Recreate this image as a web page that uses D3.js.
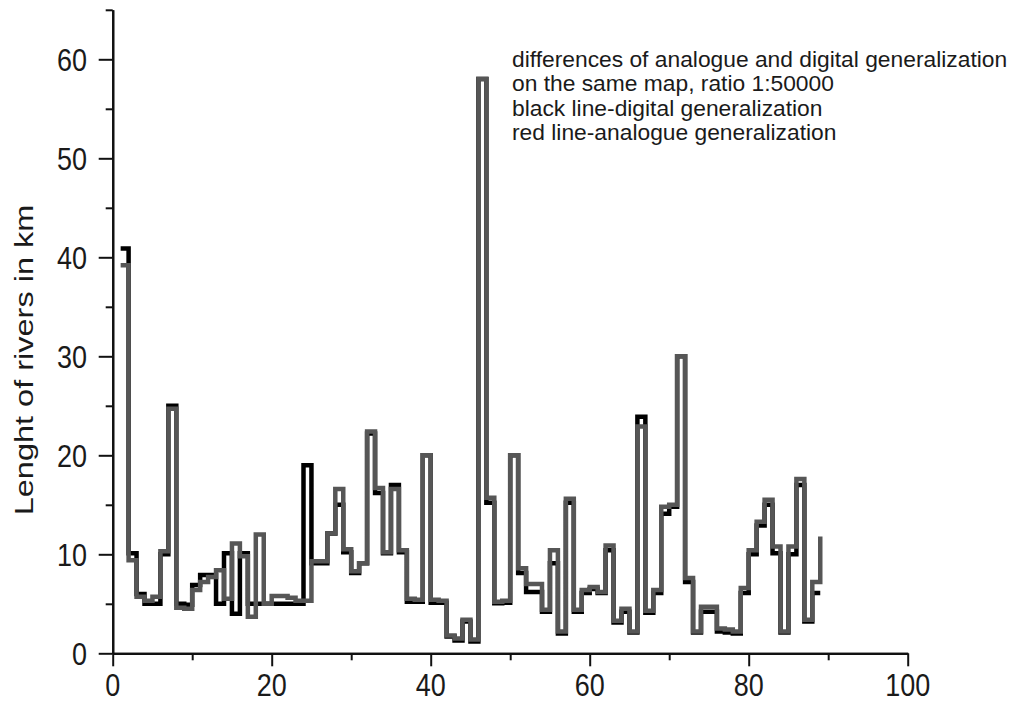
<!DOCTYPE html>
<html>
<head>
<meta charset="utf-8">
<script src="https://cdn.jsdelivr.net/npm/d3@7"></script>
<style>
  html, body { margin: 0; padding: 0; background: #fff; }
  svg { display: block; }
  text { font-family: "Liberation Sans", Arial, sans-serif; fill: #1a1a1a; }
</style>
</head>
<body>
<svg id="chart" width="1026" height="703"></svg>
<script>
// ---- data ----
const positions = d3.range(1, 90); // 1..89
const digital = [
  40.9, 10.1, 6.0, 5.0, 5.0, 10.0, 25.0, 5.0, 4.9,
  6.9, 7.9, 7.9, 5.0, 10.1, 4.0, 10.1, 5.0, 5.0, 5.0,
  5.0, 5.0, 5.0, 5.0, 19.0, 9.1, 9.1, 12.1, 15.0, 10.2,
  8.1, 9.1, 22.2, 16.2, 10.1, 17.0, 10.2, 5.2, 5.2, 20.0,
  5.1, 5.1, 1.7, 1.3, 3.2, 1.2, 58.0, 15.2, 5.05, 5.1,
  20.0, 8.1, 6.2, 6.2, 4.2, 9.1, 2.0, 15.2, 4.2, 6.1,
  6.5, 6.1, 10.4, 3.1, 4.2, 2.1, 23.9, 4.1, 6.1, 14.1,
  14.8, 30.0, 7.2, 2.1, 4.2, 4.2, 2.2, 2.1, 2.0, 6.1,
  10.0, 12.9, 15.0, 10.1, 2.1, 10.0, 17.0, 3.2, 6.1, 6.1
];
const analogue = [
  39.2, 9.4, 5.7, 5.3, 5.7, 10.3, 24.7, 4.6, 4.5,
  6.4, 7.2, 7.7, 8.4, 5.5, 11.1, 9.8, 3.7, 12.0, 5.0,
  5.8, 5.8, 5.6, 5.3, 5.3, 9.3, 9.3, 12.1, 16.6, 10.5,
  8.3, 9.1, 22.4, 16.7, 10.2, 16.6, 10.4, 5.5, 5.4, 20.0,
  5.4, 5.3, 1.8, 1.5, 3.4, 1.4, 58.0, 15.7, 5.2, 5.3,
  20.0, 8.6, 7.0, 7.0, 4.4, 10.4, 2.2, 15.6, 4.4, 6.4,
  6.7, 6.2, 10.9, 3.3, 4.5, 2.2, 22.9, 4.3, 6.4, 14.8,
  15.0, 30.0, 7.6, 2.2, 4.7, 4.7, 2.5, 2.4, 2.2, 6.6,
  10.4, 13.3, 15.5, 10.8, 2.2, 10.8, 17.6, 3.4, 7.2, 11.8
];
const xMajorTicks = [0, 20, 40, 60, 80, 100];
const xMinorTicks = [10, 30, 50, 70, 90];
const yMajorTicks = [0, 10, 20, 30, 40, 50, 60];
const yMinorTicks = [5, 15, 25, 35, 45, 55, 65];
const yLabel = "Lenght of rivers in km";
const noteLines = [
  "differences of analogue and digital generalization",
  "on the same map, ratio 1:50000",
  "black line-digital generalization",
  "red line-analogue generalization"
];

// ---- layout ----
const svg = d3.select("#chart");
const x = d3.scaleLinear().domain([0, 100]).range([112.7, 907.7]);
const y = d3.scaleLinear().domain([0, 65]).range([653.3, 9.8]);
const vStretch = 1.18;

// axes
const axisG = svg.append("g");
const xMajor = d3.axisBottom(x).tickValues(xMajorTicks).tickSize(13).tickFormat("").tickSizeOuter(0);
const xMinor = d3.axisBottom(x).tickValues(xMinorTicks).tickSize(7).tickFormat("").tickSizeOuter(0);
const yMajor = d3.axisLeft(y).tickValues(yMajorTicks).tickSize(14).tickFormat("").tickSizeOuter(0);
const yMinor = d3.axisLeft(y).tickValues(yMinorTicks).tickSize(7).tickFormat("").tickSizeOuter(0);
[[xMajor, "translate(0," + y(0) + ")"], [xMinor, "translate(0," + y(0) + ")"],
 [yMajor, "translate(" + x(0) + ",0)"], [yMinor, "translate(" + x(0) + ",0)"]].forEach(([ax, tr]) => {
  const g = axisG.append("g").attr("transform", tr).call(ax);
  g.selectAll("path.domain").attr("stroke", "#111").attr("stroke-width", 2.2);
  g.selectAll(".tick line").attr("stroke", "#111").attr("stroke-width", 2);
});

// tick labels
svg.append("g").selectAll("g").data(xMajorTicks).join("g")
  .attr("transform", d => `translate(${x(d)},696) scale(1,${vStretch})`)
  .append("text").attr("text-anchor", "middle").attr("font-size", 27).text(d => d);
svg.append("g").selectAll("g").data(yMajorTicks).join("g")
  .attr("transform", d => `translate(87,${y(d) + 11.5}) scale(1,${vStretch})`)
  .append("text").attr("text-anchor", "end").attr("font-size", 27).text(d => d);

// y label
svg.append("g")
  .attr("transform", `translate(33,360) scale(1,1.3) rotate(-90)`)
  .append("text").attr("text-anchor", "middle").attr("font-size", 25).text(yLabel);

// annotation
const noteY = [67, 91.3, 115.6, 140];
svg.append("g").selectAll("text").data(noteLines).join("text")
  .attr("x", 512).attr("y", (d, i) => noteY[i])
  .attr("font-size", 22.8).text(d => d);

// step lines
const line = d3.line().curve(d3.curveStepAfter)
  .x(d => x(d[0])).y(d => y(d[1]));
const dData = positions.map((p, i) => [p, digital[i]]);
const aData = positions.map((p, i) => [p, analogue[i]]);
svg.append("path").datum(dData).attr("d", line)
  .attr("fill", "none").attr("stroke", "#000").attr("stroke-width", 4.5).attr("stroke-linejoin", "miter");
svg.append("path").datum(aData).attr("d", line)
  .attr("fill", "none").attr("stroke", "#565656").attr("stroke-width", 4.5).attr("stroke-linejoin", "miter");
</script>
</body>
</html>
